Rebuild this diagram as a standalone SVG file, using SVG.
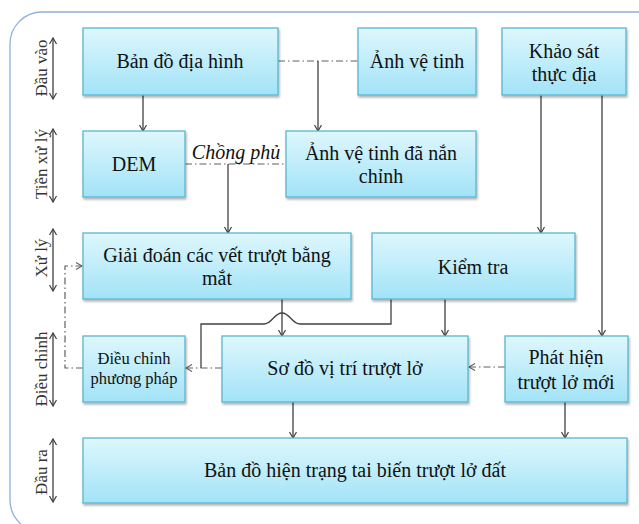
<svg xmlns="http://www.w3.org/2000/svg" width="639" height="524" viewBox="0 0 639 524">
<defs>
<linearGradient id="g" x1="0" y1="0" x2="0" y2="1">
<stop offset="0" stop-color="#def7fd"/>
<stop offset="1" stop-color="#a2e3f7"/>
</linearGradient>
<filter id="sh" x="-5%" y="-5%" width="110%" height="120%">
<feDropShadow dx="1" dy="2" stdDeviation="1" flood-color="#000" flood-opacity="0.3"/>
</filter>
<marker id="ah" markerWidth="10" markerHeight="10" refX="7" refY="4" orient="auto" markerUnits="userSpaceOnUse">
<path d="M1,0.5 L7,4 L1,7.5" fill="none" stroke="#404040" stroke-width="1.2"/>
</marker>
<marker id="as" markerWidth="10" markerHeight="10" refX="7" refY="4" orient="auto-start-reverse" markerUnits="userSpaceOnUse">
<path d="M1,0.5 L7,4 L1,7.5" fill="none" stroke="#404040" stroke-width="1.2"/>
</marker>
<marker id="ad" markerWidth="10" markerHeight="10" refX="7" refY="4" orient="auto" markerUnits="userSpaceOnUse">
<path d="M1,0.5 L7,4 L1,7.5" fill="none" stroke="#606060" stroke-width="1.1"/>
</marker>
</defs>
<style>
.box{fill:url(#g);stroke:#5ab6cf;stroke-width:1.3;filter:url(#sh)}
.t{font-family:"Liberation Serif","Times New Roman",serif;font-size:20px;fill:#111;text-anchor:middle}
.s{font-size:16.5px}
.side{font-family:"Liberation Serif","Times New Roman",serif;font-size:17px;fill:#333;text-anchor:middle}
.ln{fill:none;stroke:#404040;stroke-width:1.3}
.dd{fill:none;stroke:#606060;stroke-width:1.2;stroke-dasharray:7,3,1.5,3}
.dbl{fill:none;stroke:#404040;stroke-width:1.3}
</style>
<rect x="10" y="12" width="660" height="520" rx="32" ry="32" fill="#fff" stroke="#8fb0d8" stroke-width="1.3"/>

<g id="side-labels">
<text class="side" transform="translate(47,68) rotate(-90)">Đầu vào</text>
<line class="dbl" x1="53" y1="38" x2="53" y2="99" marker-start="url(#as)" marker-end="url(#as)"/>
<text class="side" transform="translate(47,164) rotate(-90)">Tiền xử lý</text>
<line class="dbl" x1="53" y1="129" x2="53" y2="202" marker-start="url(#as)" marker-end="url(#as)"/>
<text class="side" transform="translate(47,258) rotate(-90)">Xử lý</text>
<line class="dbl" x1="53" y1="229" x2="53" y2="291" marker-start="url(#as)" marker-end="url(#as)"/>
<text class="side" transform="translate(47,369) rotate(-90)">Điều chỉnh</text>
<line class="dbl" x1="53" y1="333" x2="53" y2="406" marker-start="url(#as)" marker-end="url(#as)"/>
<text class="side" transform="translate(47,472) rotate(-90)">Đầu ra</text>
<line class="dbl" x1="53" y1="439" x2="53" y2="502" marker-start="url(#as)" marker-end="url(#as)"/>
</g>

<g id="connectors">
<line class="ln" x1="143" y1="95" x2="143" y2="131" marker-end="url(#ah)"/>
<line class="dd" x1="278" y1="61" x2="358" y2="61"/>
<line class="ln" x1="318" y1="61" x2="318" y2="131" marker-end="url(#ah)"/>
<line class="dd" x1="185" y1="164" x2="286" y2="164"/>
<line class="ln" x1="228" y1="164" x2="228" y2="233" marker-end="url(#ah)"/>
<line class="ln" x1="541" y1="95" x2="541" y2="233" marker-end="url(#ah)"/>
<line class="ln" x1="602" y1="95" x2="602" y2="336" marker-end="url(#ah)"/>
<line class="ln" x1="282" y1="299" x2="282" y2="336" marker-end="url(#ah)"/>
<line class="ln" x1="445" y1="299" x2="445" y2="336" marker-end="url(#ah)"/>
<path class="ln" d="M391,299 V324 H300 C292,324 290,313 282,313 C274,313 272,324 264,324 H201 V368"/>
<line class="dd" x1="222" y1="368" x2="186" y2="368" marker-end="url(#ad)"/>
<path class="dd" d="M83,368 H65 V266 H82" marker-end="url(#ad)"/>
<line class="dd" x1="505" y1="367" x2="469" y2="367" marker-end="url(#ad)"/>
<line class="ln" x1="293" y1="402" x2="293" y2="438" marker-end="url(#ah)"/>
<line class="ln" x1="565" y1="402" x2="565" y2="438" marker-end="url(#ah)"/>
<text class="t" x="236" y="159" font-style="italic" font-size="18">Chồng phủ</text>
</g>

<g id="n-bandodiahinh">
<rect class="box" x="83" y="28" width="195" height="67"/>
<text class="t" x="180" y="68">Bản đồ địa hình</text>
</g>
<g id="n-anhvetinh">
<rect class="box" x="358" y="28" width="118" height="67"/>
<text class="t" x="417" y="68">Ảnh vệ tinh</text>
</g>
<g id="n-khaosat">
<rect class="box" x="502" y="28" width="124" height="67"/>
<text class="t" x="564" y="58">Khảo sát</text>
<text class="t" x="564" y="81">thực địa</text>
</g>
<g id="n-dem">
<rect class="box" x="83" y="131" width="102" height="66"/>
<text class="t" x="134" y="171">DEM</text>
</g>
<g id="n-anhnanchinh">
<rect class="box" x="286" y="131" width="190" height="66"/>
<text class="t" x="381" y="160">Ảnh vệ tinh đã nắn</text>
<text class="t" x="381" y="183">chỉnh</text>
</g>
<g id="n-giaidoan">
<rect class="box" x="83" y="233" width="268" height="66"/>
<text class="t" x="217" y="262">Giải đoán các vết trượt bằng</text>
<text class="t" x="217" y="285">mắt</text>
</g>
<g id="n-kiemtra">
<rect class="box" x="372" y="233" width="203" height="66"/>
<text class="t" x="473" y="274">Kiểm tra</text>
</g>
<g id="n-dieuchinh">
<rect class="box" x="83" y="336" width="102" height="66"/>
<text class="t s" x="134" y="364">Điều chỉnh</text>
<text class="t s" x="134" y="384">phương pháp</text>
</g>
<g id="n-sodo">
<rect class="box" x="222" y="336" width="246" height="66"/>
<text class="t" x="345" y="375">Sơ đồ vị trí trượt lở</text>
</g>
<g id="n-phathien">
<rect class="box" x="505" y="336" width="123" height="66"/>
<text class="t" x="566" y="364">Phát hiện</text>
<text class="t" x="566" y="389">trượt lở mới</text>
</g>
<g id="n-bandohientrang">
<rect class="box" x="83" y="438" width="544" height="65"/>
<text class="t" x="355" y="477">Bản đồ hiện trạng tai biến trượt lở đất</text>
</g>
</svg>
